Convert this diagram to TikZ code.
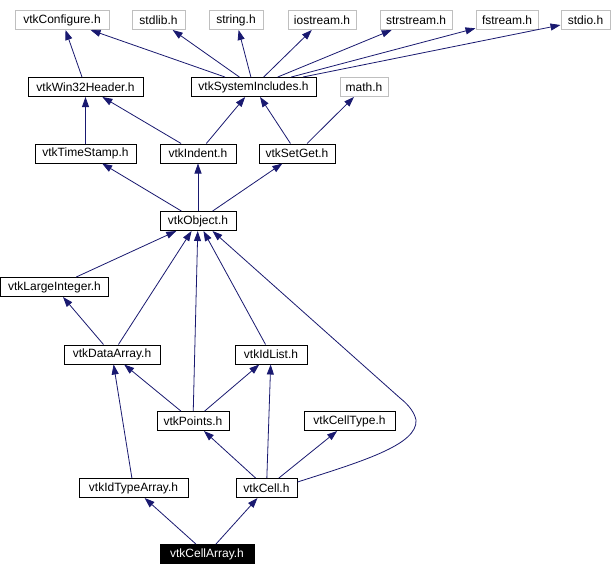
\documentclass[tikz,border=0pt]{standalone}
\usepackage{fontspec}
\setmainfont{Liberation Sans}
\usetikzlibrary{arrows.meta}
\definecolor{edgeblue}{HTML}{191970}
\definecolor{sysgray}{HTML}{BFBFBF}
\begin{document}
\begin{tikzpicture}[x=1pt,y=-1pt,
  hdr/.style={draw=black, line width=1pt, fill=white, minimum height=19pt, inner sep=0pt, font=\fontsize{12}{14}\selectfont},
  sys/.style={hdr, draw=sysgray},
  focus/.style={hdr, fill=black, text=white},
  edge/.style={draw=edgeblue, line width=0.8pt, -{Triangle[length=10pt,width=7pt]}}]
\useasboundingbox[fill=white] (0,0) rectangle (612,576);
% row 1
\node[sys, minimum width=94pt] (conf) at (62,20) {vtkConfigure.h};
\node[sys, minimum width=53pt] (stdlib) at (158.5,20) {stdlib.h};
\node[sys, minimum width=54pt] (string) at (236,20) {string.h};
\node[sys, minimum width=68pt] (iostream) at (322,20) {iostream.h};
\node[sys, minimum width=72pt] (strstream) at (416,20) {strstream.h};
\node[sys, minimum width=62pt] (fstream) at (507,20) {fstream.h};
\node[sys, minimum width=49pt] (stdio) at (585.5,20) {stdio.h};
% row 2
\node[hdr, minimum width=115pt] (win32) at (85.5,87) {vtkWin32Header.h};
\node[hdr, minimum width=125pt] (sysinc) at (253.5,87) {vtkSystemIncludes.h};
\node[sys, minimum width=48pt] (math) at (364,87) {math.h};
% row 3
\node[hdr, minimum width=101pt] (timestamp) at (85.5,153.5) {vtkTimeStamp.h};
\node[hdr, minimum width=76pt] (indent) at (198,153.5) {vtkIndent.h};
\node[hdr, minimum width=76pt] (setget) at (297,153.5) {vtkSetGet.h};
% row 4
\node[hdr, minimum width=76pt] (object) at (198,221) {vtkObject.h};
% row 5
\node[hdr, minimum width=108pt] (largeint) at (54.5,287) {vtkLargeInteger.h};
% row 6
\node[hdr, minimum width=96pt] (dataarray) at (112,354.5) {vtkDataArray.h};
\node[hdr, minimum width=72pt] (idlist) at (271,354.5) {vtkIdList.h};
% row 7
\node[hdr, minimum width=72pt] (points) at (193,421) {vtkPoints.h};
\node[hdr, minimum width=91pt] (celltype) at (349.5,421) {vtkCellType.h};
% row 8
\node[hdr, minimum width=109pt] (idtypearray) at (133.5,488) {vtkIdTypeArray.h};
\node[hdr, minimum width=61pt] (cell) at (266.5,488) {vtkCell.h};
% row 9
\node[focus, minimum width=94pt] (cellarray) at (207,554) {vtkCellArray.h};
% edges
\draw[edge] (win32) -- (conf);
\draw[edge] (sysinc) -- (conf);
\draw[edge] (sysinc) -- (stdlib);
\draw[edge] (sysinc) -- (string);
\draw[edge] (sysinc) -- (iostream);
\draw[edge] (sysinc) -- (strstream);
\draw[edge] (sysinc) -- (fstream);
\draw[edge] (sysinc) -- (stdio);
\draw[edge] (timestamp) -- (win32);
\draw[edge] (indent) -- (win32);
\draw[edge] (indent) -- (sysinc);
\draw[edge] (setget) -- (sysinc);
\draw[edge] (setget) -- (math);
\draw[edge] (object) -- (timestamp);
\draw[edge] (object) -- (indent);
\draw[edge] (object) -- (setget);
\draw[edge] (largeint) -- (object);
\draw[edge] (dataarray) -- (object);
\draw[edge] (dataarray) -- (largeint);
\draw[edge] (points) -- (object);
\draw[edge] (points) -- (dataarray);
\draw[edge] (points) -- (idlist);
\draw[edge] (idlist) -- (object);
\draw[edge] ([yshift=6pt]cell.east) .. controls (360,462) and (418,445) .. (416,420) .. controls (414,410) and (405,402) .. (400,398) -- ([xshift=-24pt]object.south east);
\draw[edge] (cell) -- (points);
\draw[edge] (cell) -- (idlist);
\draw[edge] (cell) -- (celltype);
\draw[edge] (idtypearray) -- (dataarray);
\draw[edge] (cellarray) -- (idtypearray);
\draw[edge] (cellarray) -- (cell);
\end{tikzpicture}
\end{document}
